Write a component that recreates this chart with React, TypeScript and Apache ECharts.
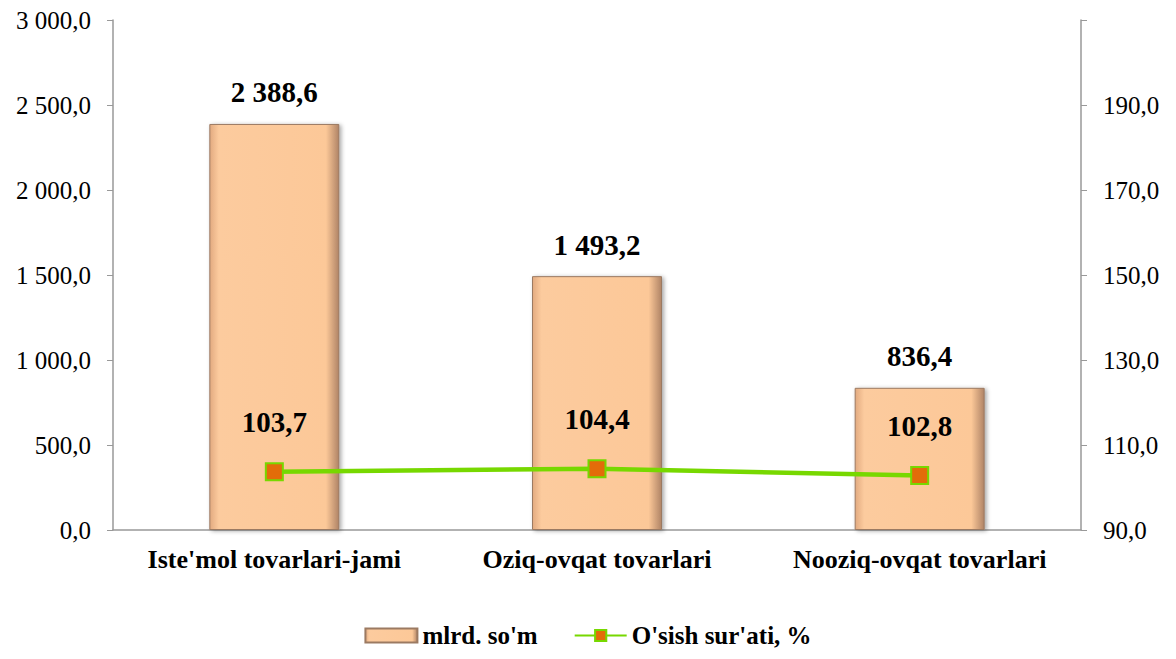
import React, { useEffect, useRef } from "react";
import * as echarts from "echarts";

const categories = ["Iste'mol tovarlari-jami", "Oziq-ovqat tovarlari", "Nooziq-ovqat tovarlari"];
const barValues = [2388.6, 1493.2, 836.4];
const lineValues = [103.7, 104.4, 102.8];
const barName = "mlrd. so'm";
const lineName = "O'sish sur'ati, %";

const fmt = (v: number) => {
  const s = v.toFixed(1);
  const [i, d] = s.split(".");
  return i.replace(/\B(?=(\d{3})+(?!\d))/g, " ") + "," + d;
};

const FONT = "Liberation Serif";

export default function App() {
  const ref = useRef<HTMLDivElement>(null);
  useEffect(() => {
    if (!ref.current) return;
    const chart = echarts.init(ref.current, undefined, { renderer: "svg" });
    chart.setOption({
      animation: false,
      backgroundColor: "#ffffff",
      textStyle: { fontFamily: FONT },
      grid: { left: 113, right: 95, top: 20, bottom: 129, containLabel: false },
      legend: {
        bottom: 6,
        left: "center",
        itemGap: 36,
        itemWidth: 52,
        itemHeight: 14,
        textStyle: { fontFamily: FONT, fontSize: 25, fontWeight: "bold", color: "#000" },
        data: [
          { name: barName, icon: "rect" },
          { name: lineName },
        ],
      },
      xAxis: {
        type: "category",
        data: categories,
        axisLine: { lineStyle: { color: "#999", width: 1.5 } },
        axisTick: { show: false },
        axisLabel: {
          interval: 0,
          hideOverlap: false,
          margin: 16,
          fontFamily: FONT,
          fontSize: 26,
          fontWeight: "bold",
          color: "#000",
        },
      },
      yAxis: [
        {
          type: "value",
          min: 0,
          max: 3000,
          interval: 500,
          position: "left",
          axisLine: { show: true, lineStyle: { color: "#999", width: 1.5 } },
          axisTick: { show: true, inside: false, length: 6, lineStyle: { color: "#999" } },
          splitLine: { show: false },
          axisLabel: { margin: 22, fontFamily: FONT, fontSize: 25, color: "#000", formatter: (v: number) => fmt(v) },
        },
        {
          type: "value",
          min: 90,
          max: 210,
          interval: 20,
          position: "right",
          axisLine: { show: true, lineStyle: { color: "#999", width: 1.5 } },
          axisTick: { show: true, inside: false, length: 6, lineStyle: { color: "#999" } },
          splitLine: { show: false },
          axisLabel: {
            margin: 22,
            fontFamily: FONT,
            fontSize: 25,
            color: "#000",
            formatter: (v: number) => (v >= 210 ? "" : fmt(v)),
          },
        },
      ],
      series: [
        {
          name: barName,
          type: "bar",
          yAxisIndex: 0,
          data: barValues,
          barWidth: 130,
          itemStyle: {
            color: {
              type: "linear",
              x: 0, y: 0, x2: 1, y2: 0,
              colorStops: [
                { offset: 0, color: "#E2AA80" },
                { offset: 0.07, color: "#FCCB9E" },
                { offset: 0.9, color: "#FCC898" },
                { offset: 1, color: "#B08466" },
              ],
            },
            borderColor: "#9b7a62",
            borderWidth: 1,
            shadowColor: "rgba(0,0,0,0.35)",
            shadowBlur: 4,
            shadowOffsetX: 2,
            shadowOffsetY: 1,
          },
          label: {
            show: true,
            position: "top",
            distance: 17,
            fontFamily: FONT,
            fontSize: 29,
            fontWeight: "bold",
            color: "#000",
            formatter: (p: any) => fmt(p.value),
          },
        },
        {
          name: lineName,
          type: "line",
          yAxisIndex: 1,
          data: lineValues,
          symbol: "rect",
          symbolSize: 17,
          lineStyle: { color: "#77D800", width: 4.5 },
          itemStyle: { color: "#E36C09", borderColor: "#77D800", borderWidth: 2 },
          label: {
            show: true,
            position: "top",
            distance: 26,
            fontFamily: FONT,
            fontSize: 29,
            fontWeight: "bold",
            color: "#000",
            formatter: (p: any) => fmt(p.value),
          },
        },
      ],
    });
    return () => chart.dispose();
  }, []);
  return <div ref={ref} style={{ width: 1176, height: 659, position: "absolute", left: 0, top: 0 }} />;
}
